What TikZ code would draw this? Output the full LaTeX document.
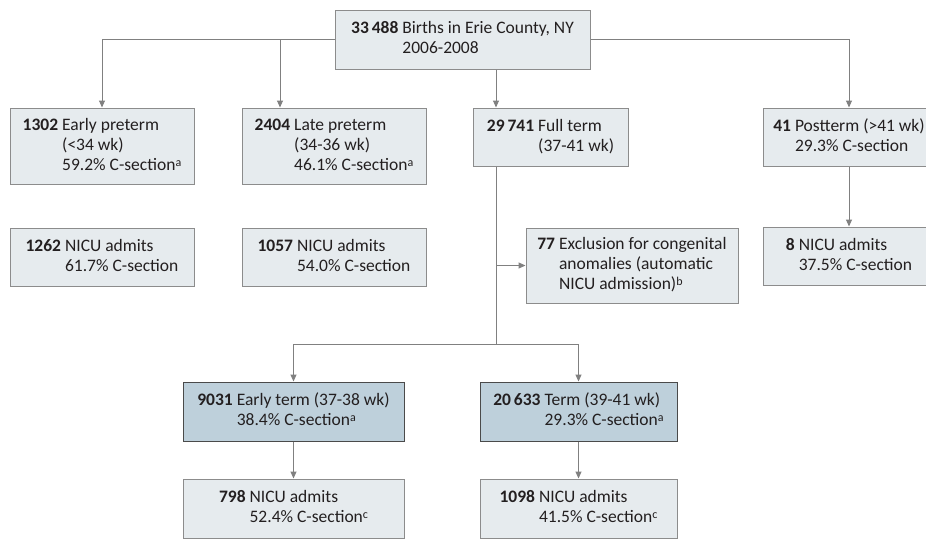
\documentclass[tikz,border=0pt]{standalone}
\usepackage{fontspec}
\setmainfont{Carlito}
\usetikzlibrary{arrows.meta}
\definecolor{boxfill}{HTML}{E6EBEE}
\definecolor{boxline}{HTML}{8C8C8C}
\definecolor{darkfill}{HTML}{BED0DB}
\definecolor{darkline}{HTML}{4A4A4A}
\definecolor{arrowgray}{HTML}{808080}
\definecolor{txt}{HTML}{231F20}
\tikzset{
  lightbox/.style={draw=boxline, fill=boxfill, line width=1pt, inner sep=0pt,
    font=\fontsize{17.5}{20}\selectfont, text=txt, align=left},
  darkbox/.style={lightbox, draw=darkline, fill=darkfill},
  conn/.style={draw=arrowgray, line width=1pt, -{Triangle[length=7pt,width=6pt]}},
  plainline/.style={draw=arrowgray, line width=1pt}
}
\newcommand{\tb}[1]{\begin{tabular}{@{}l@{\hspace{4pt}}l@{}}#1\end{tabular}}
\newcommand{\sups}[1]{\raisebox{0.45ex}{\fontsize{12}{12}\selectfont #1}}
\begin{document}
\begin{tikzpicture}[x=1pt,y=-1pt]
\useasboundingbox (0,0) rectangle (926,557);
\fill[white] (0,0) rectangle (926,557);
% boxes
\node[lightbox, minimum width=255pt, minimum height=59pt] (top) at (462.5,39.5)
  {\tb{\textbf{33\,488} & Births in Erie County, NY\\ & 2006-2008}};
\node[lightbox, minimum width=184pt, minimum height=76pt] (b1) at (102,146)
  {\tb{\textbf{1302} & Early preterm\\ & (<34 wk)\\ & 59.2\% C-section\sups{a}}};
\node[lightbox, minimum width=184pt, minimum height=76pt] (b2) at (334,146)
  {\tb{\textbf{2404} & Late preterm\\ & (34-36 wk)\\ & 46.1\% C-section\sups{a}}};
\node[lightbox, minimum width=184pt, minimum height=58pt] (n1) at (102,257)
  {\tb{\textbf{1262} & NICU admits\\ & 61.7\% C-section}};
\node[lightbox, minimum width=184pt, minimum height=58pt] (n2) at (334,257)
  {\tb{\textbf{1057} & NICU admits\\ & 54.0\% C-section}};
\node[lightbox, minimum width=155pt, minimum height=58pt] (ft) at (550.5,137)
  {\tb{\textbf{29\,741} & Full term\\ & (37-41 wk)}};
\node[lightbox, minimum width=172pt, minimum height=58pt] (pt) at (849,137)
  {\tb{\textbf{41} & Postterm (>41 wk)\\ & 29.3\% C-section}};
\node[lightbox, minimum width=172pt, minimum height=58pt] (n8) at (849,256)
  {\tb{\textbf{8} & NICU admits\\ & 37.5\% C-section}};
\node[lightbox, minimum width=212pt, minimum height=75pt] (exc) at (632,265.5)
  {\tb{\textbf{77} & Exclusion for congenital\\ & anomalies (automatic\\ & NICU admission)\sups{b}}};
\node[darkbox, minimum width=221pt, minimum height=59pt] (et) at (293.5,411.5)
  {\tb{\textbf{9031} & Early term (37-38 wk)\\ & 38.4\% C-section\sups{a}}};
\node[darkbox, minimum width=197pt, minimum height=59pt] (tm) at (578.5,411.5)
  {\tb{\textbf{20\,633} & Term (39-41 wk)\\ & 29.3\% C-section\sups{a}}};
\node[lightbox, minimum width=221pt, minimum height=59pt] (n3) at (293.5,508.5)
  {\tb{\textbf{798} & NICU admits\\ & 52.4\% C-section\sups{c}}};
\node[lightbox, minimum width=197pt, minimum height=59pt] (n4) at (578.5,508.5)
  {\tb{\textbf{1098} & NICU admits\\ & 41.5\% C-section\sups{c}}};
% helper coordinates
\coordinate (j2) at (280,40);
\coordinate (xft) at (496,0);
\coordinate (split) at (496,344);
% connectors
\draw[conn] (top.west) -| (b1.north);
\draw[conn] (j2) -- (j2 |- b2.north);
\draw[conn] (top.south -| xft) -- (ft.north -| xft);
\draw[conn] (top.east) -| (pt.north);
\draw[conn] (pt.south) -- (n8.north);
\draw[plainline] (ft.south -| xft) -- (split);
\draw[conn] (exc.west -| xft) -- (exc.west);
\draw[conn] (split) -| (et.north);
\draw[conn] (split) -| (tm.north);
\draw[conn] (et.south) -- (n3.north);
\draw[conn] (tm.south) -- (n4.north);
\end{tikzpicture}
\end{document}
